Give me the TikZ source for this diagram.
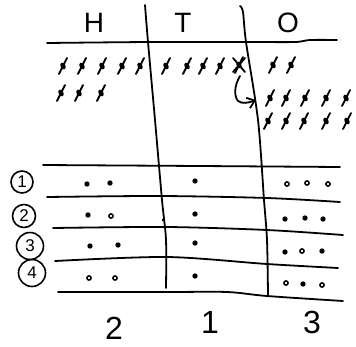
\documentclass[tikz,border=0pt]{standalone}
\usepackage{fontspec}
\setmainfont{Liberation Sans}
\usetikzlibrary{arrows.meta}

% a single counted stick: a slanted stroke with a blob on it
\newcommand\tallymark[2]{%
  \draw[pen] ({#1-4},{#2+8}) -- ({#1+4},{#2-8});
  \fill[rotate around={-60:(#1,#2)}] (#1,#2) ellipse (3.6 and 2.4);
}
% a filled counter and a hollow counter
\newcommand\fulldot[2]{\fill (#1,#2) circle (2.7);}
\newcommand\holldot[2]{\draw[line width=1.5pt] (#1,#2) circle (2.1);}

\begin{document}
\begin{tikzpicture}[x=1pt,y=-1pt,line cap=round,line join=round,
  pen/.style={line width=1.8pt},
  head/.style={font=\fontsize{28}{30}\selectfont},
  total/.style={font=\fontsize{32}{34}\selectfont},
  rownum/.style={draw,line width=1.6pt,circle,inner sep=1pt,
    font=\fontsize{17}{18}\selectfont}]
\useasboundingbox (0,0) rectangle (356,346);

% column headings
\node[head] (h) at (94,23) {H};
\node[head] (t) at (183,23) {T};
\node[head] (o) at (288,23) {O};

% heading rule
\draw[pen] plot[smooth] coordinates {(47,43) (150,42) (250,42) (295,42) (310,40) (337,40)};

% column dividers
\draw[pen] plot[smooth] coordinates {(145,5) (148,42) (155,120) (162,200) (166,240) (166,288)};
\draw[pen] plot[smooth] coordinates {(240,6) (243,12) (246,42) (258,120) (264,200) (267,240) (268,295)};

% row rules
\draw[pen] plot[smooth] coordinates {(43,165) (200,166) (340,167)};
\draw[pen] plot[smooth] coordinates {(47,197) (160,196) (267,198) (340,202)};
\draw[pen] plot[smooth] coordinates {(53,228) (167,227) (267,230) (343,235)};
\draw[pen] plot[smooth] coordinates {(55,261) (167,257) (267,264) (338,268)};
\draw[pen] plot[smooth] coordinates {(58,292) (167,292) (227,292) (267,296) (343,301)};

% sticks in the hundreds column
\foreach \x in {63,82,102,122,140} {\tallymark{\x}{66}}
\foreach \x in {61,79,101} {\tallymark{\x}{93}}

% sticks in the tens column, the last one crossed out
\foreach \x in {166,187,203,220} {\tallymark{\x}{66}}
\tallymark{239}{65}
\draw[pen] (233,58) -- (245,72);
\draw[pen] (245,58) -- (233,72);

% the crossed ten carried over to the ones
\draw[pen,-{Straight Barb[length=7pt,width=11pt]}]
  (240,76) .. controls (234,86) and (234,96) .. (238,101)
  .. controls (242,104) and (248,103) .. (256,100);

% sticks in the ones column
\foreach \x in {273,291} {\tallymark{\x}{65}}
\foreach \x in {270,286,305,326,346} {\tallymark{\x}{98}}
\foreach \x in {268,286,304,326,347} {\tallymark{\x}{121}}

% row numbers
\node[rownum,minimum size=22pt] (r1) at (22,182) {1};
\node[rownum,minimum size=23pt] (r2) at (24,216) {2};
\node[rownum,minimum size=27pt] (r3) at (30,246) {3};
\node[rownum,minimum size=27pt] (r4) at (32,273) {4};

% counters, row 1
\fulldot{87}{184} \fulldot{110}{183} \fulldot{195}{181}
\holldot{287}{184} \holldot{307}{183} \holldot{328}{184}
% row 2
\fulldot{88}{215} \holldot{111}{216} \fulldot{195}{214} \fill (163,220) circle (1.4);
\fulldot{285}{219} \fulldot{305}{218} \fulldot{323}{219}
% row 3
\fulldot{90}{246} \fulldot{118}{245} \fulldot{195}{243}
\fulldot{285}{252} \holldot{302}{251} \fulldot{322}{251}
% row 4
\holldot{89}{278} \holldot{115}{278} \fulldot{195}{276}
\holldot{286}{283} \fulldot{303}{284} \holldot{322}{285}

% column totals
\node[total] (s2) at (114,328) {2};
\node[total] (s1) at (210,322) {1};
\node[total] (s3) at (312,322) {3};
\end{tikzpicture}
\end{document}
